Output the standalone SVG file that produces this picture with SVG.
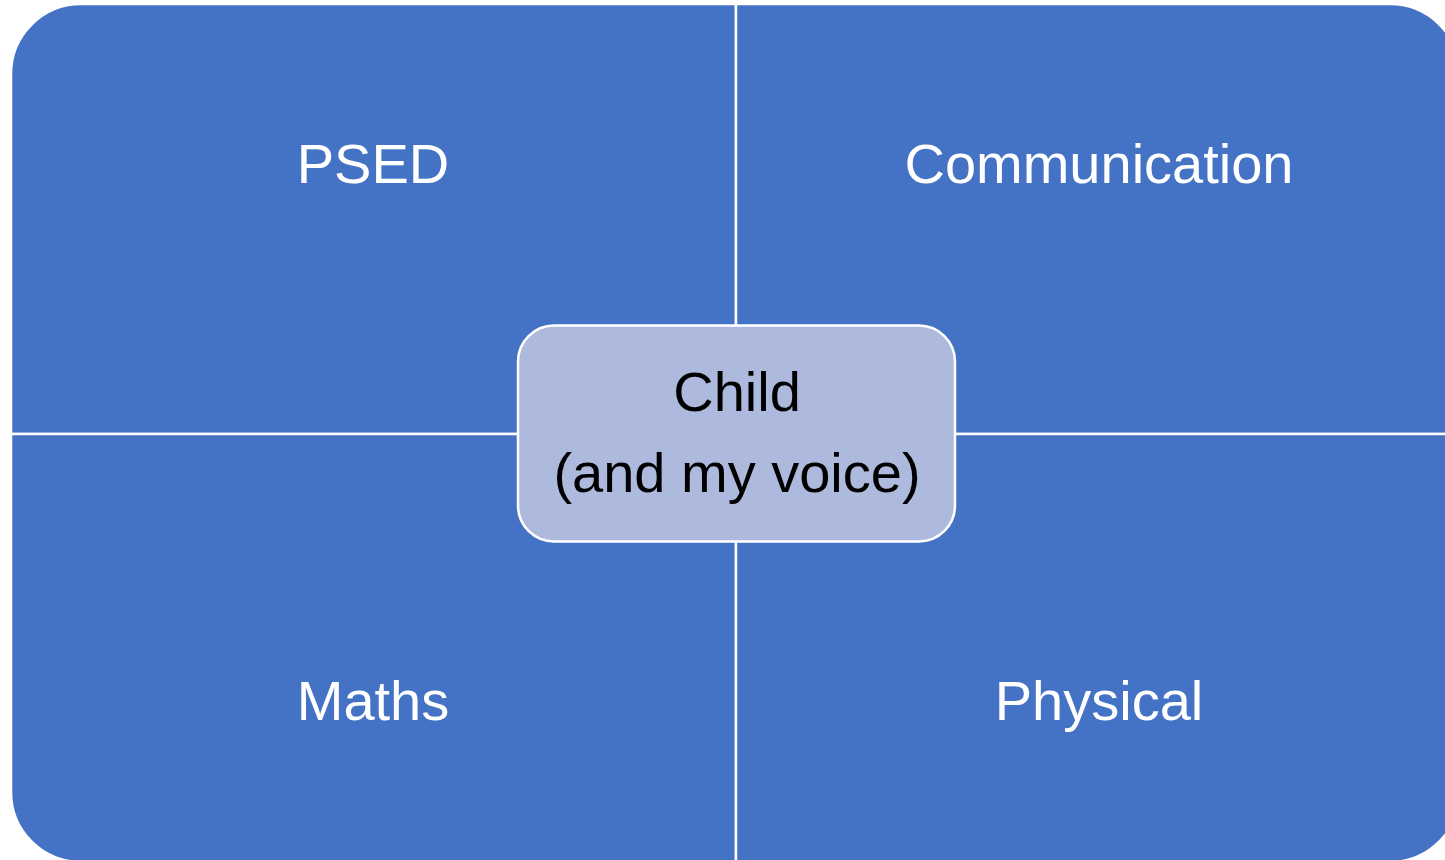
<svg xmlns="http://www.w3.org/2000/svg" width="1445" height="860" viewBox="0 0 1445 860">
<style>
.q{fill:#4472C4;stroke:#FFFFFF;stroke-width:2.5}
.c{fill:#AEBADD;stroke:#FFFFFF;stroke-width:2.5}
.t{font-family:"Liberation Sans",Arial,sans-serif;font-size:56px;text-anchor:middle}
.w{fill:#FFFFFF}
.k{fill:#000000}
</style>
<rect width="1445" height="860" fill="#FFFFFF"/>
<g id="psed">
<path class="q" d="M736,4 L81,4 A70,70 0 0 0 11,74 L11,434 L736,434 Z"/>
<text class="t w" x="373" y="183">PSED</text>
</g>
<g id="communication">
<path class="q" d="M736,4 L1390,4 A70,70 0 0 1 1460,74 L1460,434 L736,434 Z"/>
<text class="t w" x="1099" y="183">Communication</text>
</g>
<g id="maths">
<path class="q" d="M736,434 L11,434 L11,792 A70,70 0 0 0 81,862 L736,862 Z"/>
<text class="t w" x="373" y="720">Maths</text>
</g>
<g id="physical">
<path class="q" d="M736,434 L1460,434 L1460,792 A70,70 0 0 1 1390,862 L736,862 Z"/>
<text class="t w" x="1099" y="720">Physical</text>
</g>
<g id="connectors"></g>
<g id="child">
<rect class="c" x="518" y="325.5" width="437" height="216" rx="36" ry="36"/>
<text class="t k" x="737" y="411">Child</text>
<text class="t k" x="737" y="492">(and my voice)</text>
</g>
</svg>
